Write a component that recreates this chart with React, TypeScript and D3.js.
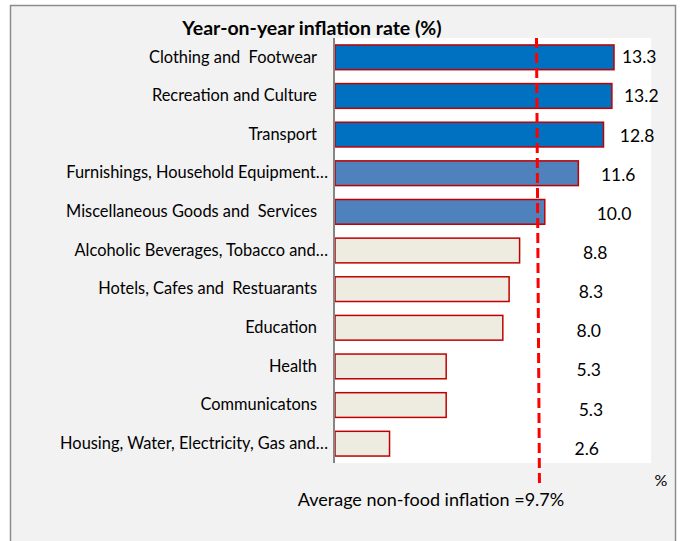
import { useEffect, useRef } from 'react';
import * as d3 from 'd3';

// Year-on-year inflation by non-food category (%)
const categories = [
  'Clothing and  Footwear',
  'Recreation and Culture',
  'Transport',
  'Furnishings, Household Equipment…',
  'Miscellaneous Goods and  Services',
  'Alcoholic Beverages, Tobacco and…',
  'Hotels, Cafes and  Restuarants',
  'Education',
  'Health',
  'Communicatons',
  'Housing, Water, Electricity, Gas and…',
];
const values = [13.3, 13.2, 12.8, 11.6, 10.0, 8.8, 8.3, 8.0, 5.3, 5.3, 2.6];
// colour group of each bar: 0 = highest, 1 = above average, 2 = below average
const groups = [0, 0, 0, 1, 1, 2, 2, 2, 2, 2, 2];
const averageInflation = 9.7;

const title = 'Year-on-year inflation rate (%)';
const averageLabel = 'Average non-food inflation =9.7%';

// where the data labels were dragged to, in axis units (label centre)
const labelAt = [14.5, 14.6, 14.4, 13.5, 13.3, 12.4, 12.2, 12.1, 12.1, 12.2, 12.0];

const fills = ['#0070c0', '#4f81bd', '#eeece1'];
const font = 'Lato, "Open Sans", sans-serif';

export default function App() {
  const ref = useRef<SVGSVGElement | null>(null);

  useEffect(() => {
    if (!ref.current) return;
    const svg = d3.select(ref.current);
    svg.selectAll('*').remove();

    const W = 684;
    const H = 541;
    const plot = { left: 335, right: 651, top: 38, bottom: 463 };

    // outer chart frame
    svg.append('rect').attr('width', W).attr('height', H).attr('fill', '#ffffff');
    svg.append('rect')
      .attr('x', 10.5).attr('y', 5.5)
      .attr('width', 665).attr('height', 545)
      .attr('fill', '#f2f2f2')
      .attr('stroke', '#8c8c8c')
      .attr('stroke-width', 1.5);

    // plot area
    svg.append('rect')
      .attr('x', plot.left).attr('y', plot.top)
      .attr('width', plot.right - plot.left)
      .attr('height', plot.bottom - plot.top)
      .attr('fill', '#ffffff');

    const x = d3.scaleLinear().domain([0, 13.3]).range([plot.left, 614]);
    const y = d3.scaleBand<string>()
      .domain(categories)
      .range([plot.top, plot.bottom])
      .paddingInner(0.36)
      .paddingOuter(0.18);

    const rows = categories.map((c, i) => ({ c, v: values[i], g: groups[i], l: labelAt[i] }));

    // bars
    svg.append('g')
      .selectAll('rect')
      .data(rows)
      .join('rect')
      .attr('x', x(0))
      .attr('y', d => y(d.c)!)
      .attr('width', d => x(d.v) - x(0))
      .attr('height', y.bandwidth())
      .attr('fill', d => fills[d.g])
      .attr('stroke', '#c00000')
      .attr('stroke-width', 1.5);

    // category axis
    const yAxis = svg.append('g')
      .attr('transform', `translate(${plot.left - 1},0)`)
      .call(d3.axisLeft(y).tickSize(0).tickPadding(17));
    yAxis.select('.domain')
      .attr('d', `M0,${plot.top}V${plot.bottom}`)
      .attr('stroke', '#868686')
      .attr('stroke-width', 2);
    yAxis.selectAll<SVGTextElement, string>('text')
      .attr('font-family', font)
      .attr('font-size', 16.4)
      .attr('fill', '#000')
      // truncated labels run on past the usual edge, as Excel clips them
      .attr('dx', d => (d.endsWith('…') ? 11 : 0))
      .style('white-space', 'pre');

    // data labels
    svg.append('g')
      .selectAll('text')
      .data(rows)
      .join('text')
      .attr('x', d => x(d.l))
      .attr('y', (d, i) => y(d.c)! + y.bandwidth() / 2 + 6 + i * 0.5)
      .attr('text-anchor', 'middle')
      .attr('font-family', font)
      .attr('font-size', 17.5)
      .attr('fill', '#000')
      .text(d => d.v.toFixed(1));

    // average line
    svg.append('line')
      .attr('x1', x(averageInflation) - 2).attr('x2', x(averageInflation) + 1)
      .attr('y1', plot.top).attr('y2', 488)
      .attr('stroke', '#ff0000')
      .attr('stroke-width', 3)
      .attr('stroke-dasharray', '10,5');

    svg.append('text')
      .attr('x', 431).attr('y', 506)
      .attr('text-anchor', 'middle')
      .attr('font-family', font)
      .attr('font-size', 18)
      .text(averageLabel);

    svg.append('text')
      .attr('x', 661).attr('y', 486)
      .attr('text-anchor', 'middle')
      .attr('font-family', font)
      .attr('font-size', 16)
      .text('%');

    svg.append('text')
      .attr('x', 312).attr('y', 35)
      .attr('text-anchor', 'middle')
      .attr('font-family', font)
      .attr('font-weight', 'bold')
      .attr('font-size', 19.5)
      .text(title);
  }, []);

  return (
    <svg
      ref={ref}
      width={684}
      height={541}
      style={{ position: 'absolute', left: 0, top: 0, display: 'block' }}
    />
  );
}
